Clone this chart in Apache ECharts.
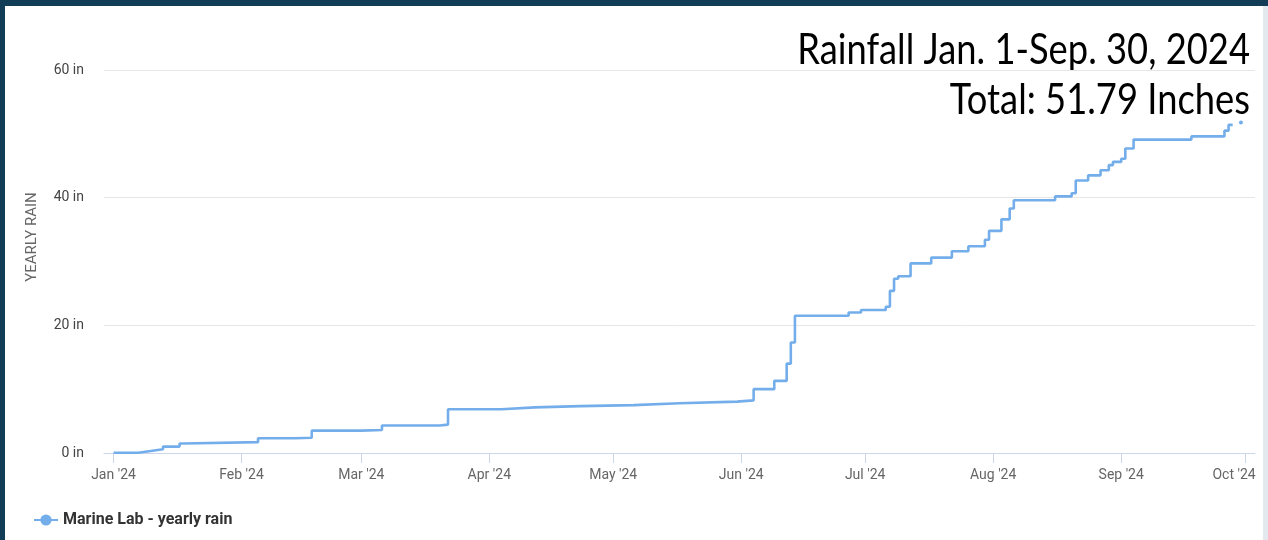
<!DOCTYPE html>
<html>
<head>
<meta charset="utf-8">
<script src="https://cdn.jsdelivr.net/npm/echarts@6/dist/echarts.min.js"></script>
<style>
html,body{margin:0;padding:0;background:#123d57;}
#chart{width:1268px;height:540px;}
</style>
</head>
<body>
<div id="chart"></div>
<script>
// ---- data ----
const titleLines = ['Rainfall Jan. 1-Sep. 30, 2024', 'Total: 51.79 Inches'];
const seriesName = 'Marine Lab - yearly rain';
const yAxisTitle = 'YEARLY RAIN';
const monthTicks = ['2024-01-01','2024-02-01','2024-03-01','2024-04-01','2024-05-01','2024-06-01','2024-07-01','2024-08-01','2024-09-01','2024-10-01'];
const monthLabels = ["Jan '24","Feb '24","Mar '24","Apr '24","May '24","Jun '24","Jul '24","Aug '24","Sep '24","Oct '24"];
const yTicks = [0, 20, 40, 60];
const rainDates = [
  '2024-01-01','2024-01-07','2024-01-10','2024-01-13','2024-01-17','2024-01-18',
  '2024-02-05','2024-02-14','2024-02-18','2024-03-01','2024-03-06','2024-03-20','2024-03-22',
  '2024-04-04','2024-04-12','2024-04-23','2024-05-06','2024-05-17','2024-05-31',
  '2024-06-04','2024-06-09','2024-06-12','2024-06-13','2024-06-14','2024-06-27','2024-06-30',
  '2024-07-06','2024-07-07','2024-07-08','2024-07-09','2024-07-12','2024-07-17','2024-07-22',
  '2024-07-26','2024-07-30','2024-07-31','2024-08-03','2024-08-05','2024-08-06','2024-08-16',
  '2024-08-20','2024-08-21','2024-08-24','2024-08-27','2024-08-29','2024-08-30','2024-09-01',
  '2024-09-02','2024-09-04','2024-09-18','2024-09-26','2024-09-27','2024-09-28'
];
const rainTotals = [
  0.05, 0.3, 0.6, 1.0, 1.5, 1.7,
  2.3, 2.4, 3.5, 3.6, 4.3, 4.45, 6.85,
  7.15, 7.35, 7.5, 7.8, 8.05, 8.25,
  10.0, 11.3, 14.0, 17.3, 21.5, 22.0, 22.4,
  22.9, 25.4, 27.3, 27.7, 29.7, 30.6, 31.6,
  32.4, 33.4, 34.8, 36.6, 38.3, 39.6, 40.2,
  40.7, 42.7, 43.5, 44.3, 45.1, 45.6, 46.1,
  47.7, 49.1, 49.6, 50.5, 51.4, null
];
const finalDate = '2024-09-30';
const finalTotal = 51.79;

// ---- chart ----
const t = s => Date.parse(s + 'T00:00:00Z');
const DAY = 86400000;
const lineData = rainDates.map((d, i) => [t(d), rainTotals[i]]);
const tickVals = monthTicks.map(t);
const labelFor = {};
tickVals.forEach((v, i) => labelFor[v] = monthLabels[i]);
const lastTick = tickVals[tickVals.length - 1];

const chart = echarts.init(document.getElementById('chart'));
const lineColor = '#74aeea';
chart.setOption({
  animation: false,
  backgroundColor: '#123d57',
  textStyle: { fontFamily: 'Roboto' },
  graphic: [
    { type: 'rect', shape: { x: 5, y: 6, width: 1258, height: 540 }, style: { fill: '#ffffff' }, z: -10 },
    { type: 'rect', shape: { x: 1263, y: 6, width: 5, height: 540 }, style: { fill: '#e3e9ee' }, z: -10 },
    { type: 'text', x: 32, y: 237, rotation: Math.PI / 2, style: { text: yAxisTitle, fill: '#666666', font: '15px Roboto', textAlign: 'center', textVerticalAlign: 'middle' } },
    { type: 'text', x: 1250, y: 29, scaleX: 0.845, style: { text: titleLines[0], fill: '#000000', font: '43px Lato', textAlign: 'right', textVerticalAlign: 'top' } },
    { type: 'text', x: 1250, y: 79, scaleX: 0.845, style: { text: titleLines[1], fill: '#000000', font: '43px Lato', textAlign: 'right', textVerticalAlign: 'top' } }
  ],
  legend: {
    left: 28, top: 507,
    data: [seriesName],
    itemWidth: 24, itemHeight: 14,
    textStyle: { color: '#333333', fontSize: 16, fontWeight: 'bold', fontFamily: 'Roboto' }
  },
  grid: { left: 104, right: 13, top: 70, bottom: 87 },
  xAxis: {
    type: 'value',
    min: t('2024-01-01') - 2.3 * DAY,
    max: t('2024-01-01') + 276.4 * DAY,
    axisLine: { onZero: false, lineStyle: { color: '#ccd6eb', width: 1 } },
    axisTick: { show: true, length: 10, lineStyle: { color: '#ccd6eb' }, customValues: tickVals },
    splitLine: { show: false },
    axisLabel: {
      customValues: tickVals,
      showMinLabel: true, showMaxLabel: true,
      margin: 15,
      color: '#666666', fontSize: 14, fontFamily: 'Roboto',
      formatter: v => v === lastTick ? '{last|' + labelFor[v] + '}' : (labelFor[v] || ''),
      rich: { last: { color: '#666666', fontSize: 14, fontFamily: 'Roboto', padding: [0, 22, 0, 0] } }
    }
  },
  yAxis: {
    type: 'value', min: 0, max: 60, interval: 20,
    axisLine: { show: false }, axisTick: { show: false },
    splitLine: { lineStyle: { color: '#e6e6e6', width: 1 } },
    axisLabel: { margin: 20, color: '#444444', fontSize: 14, fontFamily: 'Roboto', formatter: v => yTicks.includes(v) ? v + ' in' : '' }
  },
  series: [
    {
      name: seriesName, type: 'line', step: 'end',
      data: lineData,
      symbol: 'circle', symbolSize: 8, showSymbol: false,
      lineStyle: { color: lineColor, width: 2.6 },
      itemStyle: { color: lineColor },
      connectNulls: false
    },
    {
      name: 'final', type: 'line',
      data: [[t(finalDate), finalTotal]],
      symbol: 'circle', symbolSize: 4, showSymbol: true,
      itemStyle: { color: lineColor },
      lineStyle: { color: lineColor }
    }
  ]
});
</script>
</body>
</html>
